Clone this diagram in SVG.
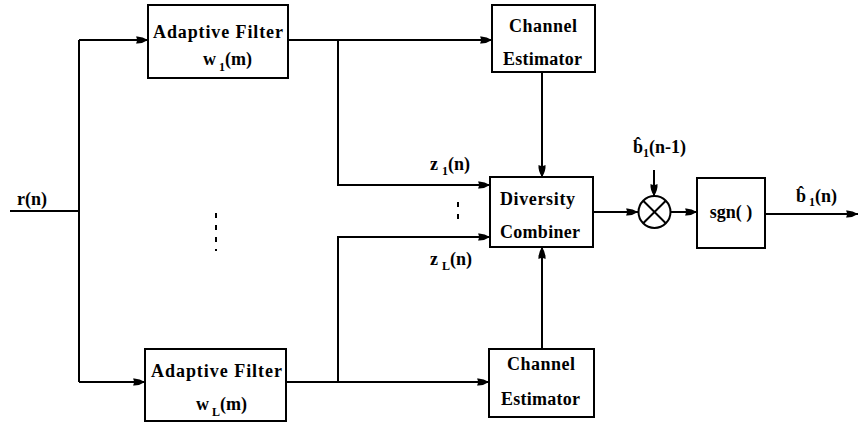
<svg xmlns="http://www.w3.org/2000/svg" width="859" height="425" viewBox="0 0 859 425">
<defs>
<style>
.box{fill:#fff;stroke:#000;stroke-width:2}
.ln{fill:none;stroke:#000;stroke-width:2}
.arr{marker-end:url(#ah)}
text{font-family:'Liberation Serif','DejaVu Serif',serif;font-weight:bold;font-size:18px;fill:#000}
.sub{font-size:12px}
</style>
<marker id="ah" markerUnits="userSpaceOnUse" markerWidth="13" markerHeight="10" refX="12" refY="5" orient="auto">
<path d="M0,1.5 Q6,1 12,5 Q6,9 0,8.5 Q2,5 0,1.5Z" fill="#000"/>
</marker>
</defs>
<rect width="859" height="425" fill="#fff"/>
<g id="connectors">
<path class="ln" d="M10,211 H79"/>
<path class="ln" d="M79,40 V382"/>
<path class="ln arr" d="M79,40 H148"/>
<path class="ln arr" d="M79,382 H145"/>
<path class="ln arr" d="M288,40 H492"/>
<path class="ln arr" d="M338,40 V185 H490"/>
<path class="ln arr" d="M286,382 H489"/>
<path class="ln arr" d="M338,382 V237 H490"/>
<path class="ln arr" d="M542,72 V177"/>
<path class="ln arr" d="M542,349 V247"/>
<path class="ln arr" d="M593,212 H638"/>
<path class="ln arr" d="M654,170 V196"/>
<path class="ln arr" d="M671,212 H697"/>
<path class="ln arr" d="M765,214 H858"/>
<path class="ln" d="M216,213 V251" stroke-dasharray="5,7"/>
<path class="ln" d="M458,202 V219" stroke-dasharray="5,7"/>
</g>
<g id="input">
<text x="17" y="205" font-family="Liberation Serif, serif">r(n)</text>
</g>
<g id="filter1">
<rect class="box" x="148" y="5" width="140" height="73"/>
<text x="153" y="38" textLength="130">Adaptive Filter</text>
<text x="203" y="65">w<tspan class="sub" dx="3" dy="6">1</tspan><tspan dy="-6">(m)</tspan></text>
</g>
<g id="filterL">
<rect class="box" x="145" y="349" width="141" height="72"/>
<text x="151" y="377" textLength="131">Adaptive Filter</text>
<text x="196" y="410">w<tspan class="sub" dx="3" dy="6">L</tspan><tspan dy="-6">(m)</tspan></text>
</g>
<g id="estimator1">
<rect class="box" x="492" y="5" width="103" height="67"/>
<text x="509" y="32" textLength="68">Channel</text>
<text x="503" y="65" textLength="79">Estimator</text>
</g>
<g id="estimatorL">
<rect class="box" x="489" y="349" width="105" height="68"/>
<text x="507" y="370" textLength="68">Channel</text>
<text x="501" y="405" textLength="79">Estimator</text>
</g>
<g id="labels-z">
<text x="430" y="170">z<tspan class="sub" dx="4" dy="5">1</tspan><tspan dy="-5">(n)</tspan></text>
<text x="430" y="265">z<tspan class="sub" dx="4" dy="5">L</tspan><tspan dy="-5">(n)</tspan></text>
</g>
<g id="combiner">
<rect class="box" x="490" y="177" width="103" height="70"/>
<text x="500" y="205" textLength="75">Diversity</text>
<text x="500" y="238" textLength="80">Combiner</text>
</g>
<g id="multiplier">
<circle cx="654.5" cy="212" r="16" fill="#fff" stroke="#000" stroke-width="2"/>
<path class="ln" d="M643.2,200.7 L665.8,223.3 M665.8,200.7 L643.2,223.3"/>
</g>
<g id="feedback-label">
<text x="633" y="153">b̂<tspan class="sub" dy="4">1</tspan><tspan dy="-4">(n-1)</tspan></text>
</g>
<g id="sgn">
<rect class="box" x="697" y="178" width="68" height="70"/>
<text x="731" y="218" text-anchor="middle">sgn( )</text>
</g>
<g id="output-label">
<text x="796" y="202">b̂<tspan class="sub" dx="3" dy="4">1</tspan><tspan dy="-4">(n)</tspan></text>
</g>
</svg>
